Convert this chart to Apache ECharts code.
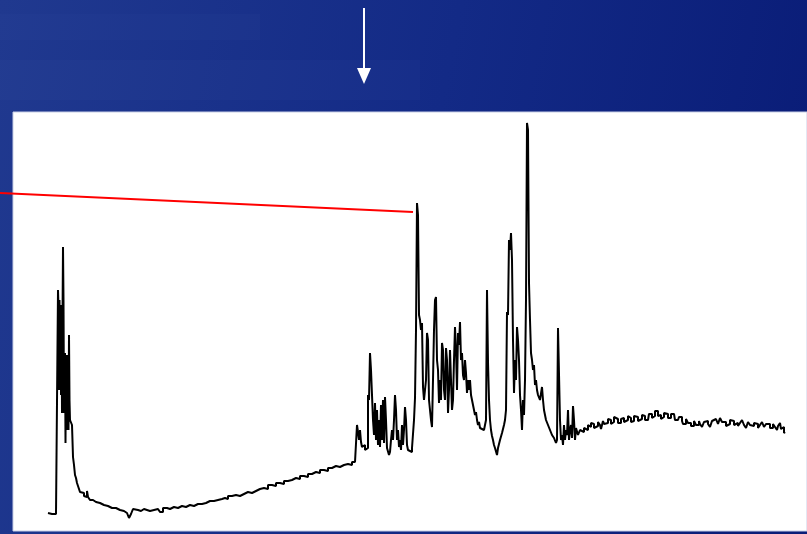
<!DOCTYPE html>
<html>
<head>
<meta charset="utf-8">
<style>html,body{margin:0;padding:0;background:#0f2584;}#chart{width:807px;height:534px;}</style>
<script src="https://cdn.jsdelivr.net/npm/echarts@6/dist/echarts.min.js"></script>
</head>
<body>
<div id="chart"></div>
<script>
// Scan number (relative) and detector intensity
const scanNumber = [0,2,4,6,8,9.5,10,10.5,11,11.5,12,12.5,13,13.5,14,14.5,15,15.5,16,16.5,17,17.5,18,18.5,19,19.5,20,20.5,21,21.5,22,23,24,25,26,27,28,29,30,32,34,36,38,39,40,42,45,48,52,56,60,64,68,72,76,79,81,83,85,87,90,93,96,99,102,106,110,112,115,119,122,126,130,134,138,142,146,150,154,158,162,166,170,174,177,180,184,188,192,196,200,204,208,212,216,220,224,228,232,236,240,244,248,252,256,260,264,268,272,276,280,284,288,292,296,300,304,307,308,309,310,311,312,313,314,315,317,319,320,321,322,323,324,325,326,327,328,329,330,331,332,333,334,335,336,337,338,339,340,341,342,343,344,345,346,347,348,349,350,351,352,353,354,355,356,357,358,359,360,362,364,365,366,367,368,369,370,371,372,373,374,375,376,377,378,379,380,381,382,383,384,385,386,387,388,389,390,391,392,393,394,395,396,397,398,399,400,401,402,403,404,405,406,407,408,409,410,411,412,413,414,415,416,417,418,419,420,421,422,423,424,425,426,427,428,429,430,431,432,434,436,438,439,440,441,442,443,444,445,446,447,448,449,450,452,454,456,457,458,459,460,461,462,463,464,465,466,467,468,469,470,471,472,473,474,475,476,477,478,479,480,481,482,483,484,485,486,487,488,489,490,492,494,495,496,498,500,502,504,506,508,509,510,511,512,513,514,515,516,517,518,519,520,521,522,523,524,525,526,527,528,530,532,534,536,538,540,
  542,543,545,546,548,550,552,553,555,556,558,560,562,563,565,566,568,570,572,573,575,576,578,580,582,583,585,586,588,590,592,594,596,597,600,601,603,604,606,607,609,610,612,613,615,616,618,620,622,623,626,627,630,631,634,635,638,640,642,643,646,648,650,651,652,654,656,658,660,662,664,666,668,670,672,674,676,678,680,682,684,686,688,690,692,694,696,698,700,702,704,706,708,710,712,714,716,718,720,722,724,725,727,729,730,732,733,735,736,737];
const intensity = [10,9,11,9,10,10,233,216,133,223,135,216,128,218,110,203,276,223,110,153,170,80,163,93,168,103,163,93,188,123,103,101,98,66,58,48,45,40,37,31,30,27,26,32,26,23,21,20,18,17,15,15,13,12,10,8,5,9,14,13,12,14,13,12,13,14,12,11,15,14,16,15,17,16,18,17,19,19,20,22,22,23,24,25,24,27,28,27,29,31,30,32,34,35,34,38,37,40,39,42,43,45,44,47,46,49,51,50,53,52,55,57,56,58,59,58,61,60,63,98,91,83,93,81,76,78,73,75,128,123,170,153,151,103,88,120,83,113,78,103,76,118,83,123,80,126,103,75,73,68,71,83,93,83,103,128,113,83,93,76,83,73,98,78,93,116,103,78,73,71,75,73,103,125,193,320,308,208,203,193,200,136,123,133,143,190,183,123,113,103,96,143,193,223,226,163,153,120,143,123,180,173,133,123,175,163,110,133,173,143,113,123,163,196,173,133,190,178,201,163,170,148,143,163,150,130,143,133,143,128,123,118,113,108,111,103,98,101,95,93,91,103,233,161,123,103,93,87,83,78,75,73,68,75,83,90,98,103,113,211,208,283,273,290,263,183,130,163,143,196,183,163,128,113,93,123,108,143,223,400,393,240,203,170,163,153,158,138,143,133,128,123,136,123,113,103,98,93,88,85,80,83,195,193,103,83,88,78,98,83,93,88,113,83,93,98,85,117,103,83,95,88,93,91,95,93,98,
  96,100,99,95,97,101,98,94,102,99,100,104,103,99,101,106,104,100,100,104,105,101,103,107,105,101,102,107,106,102,104,108,107,103,105,109,109,105,107,112,112,107,108,104,106,110,109,105,105,109,107,103,103,106,102,99,104,100,100,97,102,98,98,102,99,96,101,102,99,96,102,104,103,99,105,101,101,97,99,103,102,98,100,97,100,103,98,95,101,98,97,100,99,95,98,101,96,99,99,95,95,99,96,93,97,100,94,96,90,91];
const xRange = [0, 737];
const yRange = [0, 400];

const seriesData = scanNumber.map((s, i) => [s, intensity[i]]);

const chart = echarts.init(document.getElementById('chart'), null, {renderer: 'canvas'});
chart.setOption({
  animation: false,
  backgroundColor: 'transparent',
  grid: {left: 48, right: 22, top: 123, bottom: 11},
  xAxis: {type: 'value', min: xRange[0], max: xRange[1], show: false},
  yAxis: {type: 'value', min: yRange[0], max: yRange[1], show: false},
  graphic: [
    {type: 'rect', z: -100, silent: true, shape: {x: 0, y: 0, width: 807, height: 534},
     style: {fill: new echarts.graphic.LinearGradient(0, 0, 1, 0.3, [
       {offset: 0, color: '#20398f'}, {offset: 0.55, color: '#132a86'}, {offset: 1, color: '#0a1d78'}])}},
    {type: 'rect', z: -99, silent: true, shape: {x: 0, y: 60, width: 420, height: 40},
     style: {fill: 'rgba(90,120,200,0.05)'}},
    {type: 'rect', z: -99, silent: true, shape: {x: 0, y: 14, width: 260, height: 26},
     style: {fill: 'rgba(90,120,200,0.04)'}},
    {type: 'rect', z: -98, silent: true, shape: {x: 13, y: 112, width: 794, height: 419},
     style: {fill: '#ffffff', stroke: '#c8cfe6', lineWidth: 1}},
    {type: 'line', z: 100, silent: true, shape: {x1: 364, y1: 8, x2: 364, y2: 70},
     style: {stroke: '#ffffff', lineWidth: 2}},
    {type: 'polygon', z: 100, silent: true, shape: {points: [[357, 68], [371, 68], [364, 84]]},
     style: {fill: '#ffffff'}},
    {type: 'line', z: 100, silent: true, shape: {x1: 0, y1: 193, x2: 413, y2: 212},
     style: {stroke: '#ff0000', lineWidth: 2}}
  ],
  series: [{
    type: 'line',
    data: seriesData,
    showSymbol: false,
    step: 'end',
    lineStyle: {color: '#000000', width: 2},
    z: 10
  }]
});
</script>
</body>
</html>
